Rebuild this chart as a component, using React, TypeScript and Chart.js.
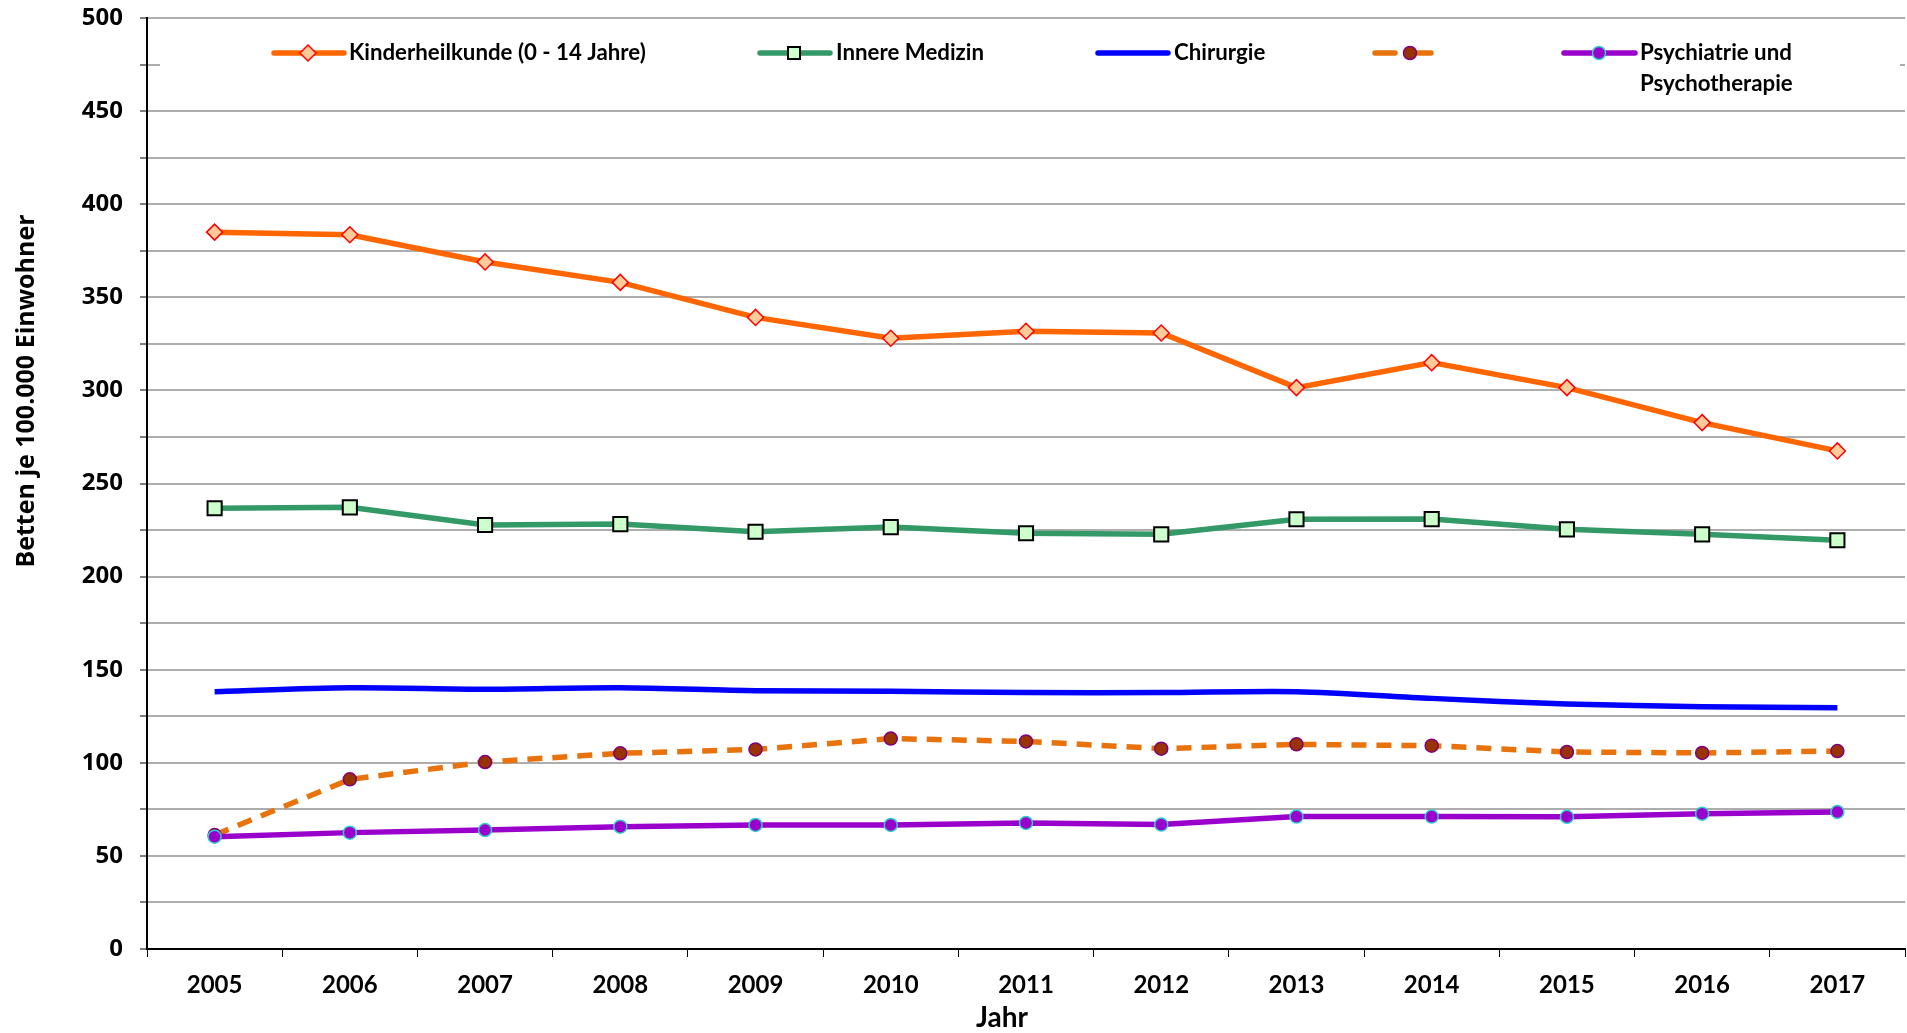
import React, { useEffect, useRef } from 'react';
import { Chart, registerables } from 'chart.js';

Chart.register(...registerables);

const years = ['2005', '2006', '2007', '2008', '2009', '2010', '2011', '2012', '2013', '2014', '2015', '2016', '2017'];
const kinderheilkunde = [385, 383.6, 369, 358, 339.2, 328, 331.8, 330.8, 301.5, 314.9, 301.5, 282.7, 267.5];
const innereMedizin = [236.7, 237.2, 227.7, 228.2, 224.1, 226.6, 223.3, 222.7, 230.8, 230.9, 225.4, 222.7, 219.5];
const chirurgie = [138.2, 140.3, 139.5, 140.3, 138.7, 138.4, 137.7, 137.7, 138.2, 134.6, 131.6, 130.1, 129.6];
const ohneName = [61.2, 91.1, 100.4, 105.1, 107.2, 113, 111.5, 107.6, 109.9, 109.2, 105.8, 105.3, 106.3];
const psychiatrie = [60.3, 62.5, 63.9, 65.7, 66.6, 66.6, 67.7, 66.8, 71.1, 71.1, 71, 72.7, 73.6];

const seriesLabels: string[][] = [
  ['Kinderheilkunde (0 - 14 Jahre)'],
  ['Innere Medizin'],
  ['Chirurgie'],
  [''],
  ['Psychiatrie und', 'Psychotherapie'],
];
const yAxisTitle = 'Betten je 100.000 Einwohner';
const xAxisTitle = 'Jahr';
const yMin = 0;
const yMax = 500;
const yStep = 25;
const yLabelStep = 50;

const FONT_NARROW = 'Lato, "Liberation Sans", sans-serif';
const FONT_WIDE = '"Open Sans", "DejaVu Sans", sans-serif';

// legend / title layout (pixels)
const legendBox = { x: 160, y: 28, w: 1740, h: 76 };
const legendItems = [
  { x1: 274, x2: 344, mx: 308, tx: 349, dash: false },
  { x1: 760, x2: 830, mx: 794, tx: 836, dash: false },
  { x1: 1098, x2: 1168, mx: -1, tx: 1174, dash: false },
  { x1: 1375, x2: 1431, mx: 1410, tx: 1440, dash: true },
  { x1: 1564, x2: 1635, mx: 1599, tx: 1640, dash: false },
];
const legendY = 53;
const legendLineGap = 31;
const xTitlePos = { x: 1002, y: 1018 };
const yTitlePos = { x: 27, y: 391 };
const plotRight = 1905;

function drawMarker(ctx: CanvasRenderingContext2D, style: string, x: number, y: number, r: number, fill: string, stroke: string, bw: number) {
  ctx.save();
  ctx.beginPath();
  if (style === 'rectRot') {
    ctx.moveTo(x - r, y);
    ctx.lineTo(x, y - r);
    ctx.lineTo(x + r, y);
    ctx.lineTo(x, y + r);
    ctx.closePath();
  } else if (style === 'rect') {
    const s = Math.SQRT1_2 * r;
    ctx.rect(x - s, y - s, 2 * s, 2 * s);
  } else {
    ctx.arc(x, y, r, 0, Math.PI * 2);
  }
  ctx.fillStyle = fill;
  ctx.fill();
  ctx.lineWidth = bw;
  ctx.strokeStyle = stroke;
  ctx.setLineDash([]);
  ctx.stroke();
  ctx.restore();
}

const legendPlugin = {
  id: 'insideLegend',
  afterLayout(chart: any) {
    // stretch the plot to the original right edge
    const ca = chart.chartArea;
    const xs = chart.scales.x;
    if (ca.right !== plotRight) {
      ca.right = plotRight;
      ca.width = ca.right - ca.left;
      xs.right = plotRight;
      xs.width = plotRight - xs.left;
      xs._length = xs.width;
      xs.configure();
    }
  },
  beforeDatasetsDraw(chart: any) {
    const ctx = chart.ctx as CanvasRenderingContext2D;
    ctx.save();
    ctx.fillStyle = '#ffffff';
    ctx.fillRect(legendBox.x, legendBox.y, legendBox.w, legendBox.h);
    ctx.restore();
  },
  afterDraw(chart: any) {
    const ctx = chart.ctx as CanvasRenderingContext2D;
    ctx.save();
    ctx.font = `bold 100px ${FONT_NARROW}`;
    const w = ctx.measureText(seriesLabels[0][0]).width;
    const size = Math.min(26, Math.max(16, (100 * 297) / w));
    chart.data.datasets.forEach((ds: any, i: number) => {
      const it = legendItems[i];
      ctx.save();
      ctx.strokeStyle = ds.borderColor;
      ctx.lineWidth = ds.borderWidth;
      ctx.lineCap = 'round';
      ctx.beginPath();
      if (it.dash) {
        ctx.moveTo(it.x1, legendY);
        ctx.lineTo(it.x1 + 20, legendY);
        ctx.moveTo(it.mx + 8, legendY);
        ctx.lineTo(it.x2, legendY);
      } else {
        ctx.moveTo(it.x1, legendY);
        ctx.lineTo(it.x2, legendY);
      }
      ctx.stroke();
      ctx.restore();
      if (it.mx > 0 && ds.pointRadius > 0) {
        const r = ds.pointStyle === 'rect' ? ds.pointRadius * 0.85 : ds.pointRadius;
        drawMarker(ctx, ds.pointStyle, it.mx, legendY, r, ds.pointBackgroundColor, ds.pointBorderColor, ds.pointBorderWidth);
      }
      ctx.fillStyle = '#000';
      ctx.font = `bold ${size}px ${FONT_NARROW}`;
      ctx.textBaseline = 'middle';
      ctx.textAlign = 'left';
      seriesLabels[i].forEach((line, j) => {
        if (line) ctx.fillText(line, it.tx, legendY + j * legendLineGap);
      });
    });
    // axis titles (placed off-centre as in the original)
    ctx.fillStyle = '#000';
    ctx.textAlign = 'center';
    ctx.textBaseline = 'middle';
    ctx.font = `bold 28px ${FONT_NARROW}`;
    ctx.fillText(xAxisTitle, xTitlePos.x, xTitlePos.y);
    ctx.save();
    ctx.translate(yTitlePos.x, yTitlePos.y);
    ctx.rotate(-Math.PI / 2);
    ctx.font = `bold 25px ${FONT_WIDE}`;
    ctx.fillText(yAxisTitle, 0, 0);
    ctx.restore();
    ctx.restore();
  },
};

export default function App() {
  const canvasRef = useRef<HTMLCanvasElement | null>(null);

  useEffect(() => {
    if (!canvasRef.current) return;
    const chart = new Chart(canvasRef.current, {
      type: 'line',
      data: {
        labels: years,
        datasets: [
          {
            label: seriesLabels[0].join(' '),
            data: kinderheilkunde,
            borderColor: '#FF6600',
            borderWidth: 5.5,
            pointStyle: 'rectRot',
            pointRadius: 8,
            pointBackgroundColor: '#FFCC99',
            pointBorderColor: '#FF0000',
            pointBorderWidth: 1.5,
            tension: 0,
            order: 1,
          },
          {
            label: seriesLabels[1].join(' '),
            data: innereMedizin,
            borderColor: '#339966',
            borderWidth: 5.5,
            pointStyle: 'rect',
            pointRadius: 10,
            pointBackgroundColor: '#CCFFCC',
            pointBorderColor: '#000000',
            pointBorderWidth: 2,
            tension: 0,
            order: 2,
          },
          {
            label: seriesLabels[2].join(' '),
            data: chirurgie,
            borderColor: '#0000FF',
            borderWidth: 5.5,
            pointRadius: 0,
            pointStyle: 'circle',
            tension: 0.3,
            order: 3,
          },
          {
            label: seriesLabels[3].join(' '),
            data: ohneName,
            borderColor: '#E8720C',
            borderWidth: 5.5,
            borderDash: [15, 10],
            pointStyle: 'circle',
            pointRadius: 6.5,
            pointBackgroundColor: '#993300',
            pointBorderColor: '#800080',
            pointBorderWidth: 1.5,
            tension: 0,
            order: 4,
          },
          {
            label: seriesLabels[4].join(' '),
            data: psychiatrie,
            borderColor: '#9900CC',
            borderWidth: 5.5,
            pointStyle: 'circle',
            pointRadius: 6.5,
            pointBackgroundColor: '#9900CC',
            pointBorderColor: '#33CCCC',
            pointBorderWidth: 1.5,
            tension: 0,
            order: 0,
          },
        ],
      },
      options: {
        responsive: false,
        animation: false,
        layout: { padding: { top: 18, right: 2, left: 0, bottom: 0 } },
        plugins: {
          legend: { display: false },
          tooltip: { enabled: false },
        },
        scales: {
          x: {
            offset: true,
            grid: {
              offset: true,
              drawOnChartArea: false,
              drawTicks: true,
              tickLength: 8,
              tickColor: '#000',
              tickWidth: 1,
            },
            border: { color: '#000', width: 2 },
            ticks: {
              font: { family: FONT_NARROW, weight: 'bold', size: 24 },
              color: '#000',
              padding: 14,
              maxRotation: 0,
            },
            title: { display: false },
            afterFit(scale: any) {
              scale.height = 84;
              scale.paddingLeft = 0;
              scale.paddingRight = 0;
            },
          },
          y: {
            min: yMin,
            max: yMax,
            ticks: {
              stepSize: yStep,
              callback: (v: any) => (Number(v) % yLabelStep === 0 ? String(v) : ''),
              font: { family: FONT_WIDE, weight: 'bold', size: 24 },
              color: '#000',
              padding: 17,
            },
            grid: {
              color: '#ADADAD',
              lineWidth: 2,
              tickColor: '#000',
              tickLength: 7,
              tickWidth: 1,
            },
            border: { color: '#000', width: 2 },
            title: { display: false },
            afterFit(scale: any) {
              scale.width = 147;
              scale.paddingTop = 0;
              scale.paddingBottom = 0;
            },
          },
        },
      },
      plugins: [legendPlugin],
    } as any);
    return () => chart.destroy();
  }, []);

  return (
    <div style={{ position: 'absolute', left: 0, top: 0, width: 1907, height: 1033, background: '#fff' }}>
      <canvas ref={canvasRef} width={1907} height={1033} style={{ display: 'block' }} />
    </div>
  );
}
